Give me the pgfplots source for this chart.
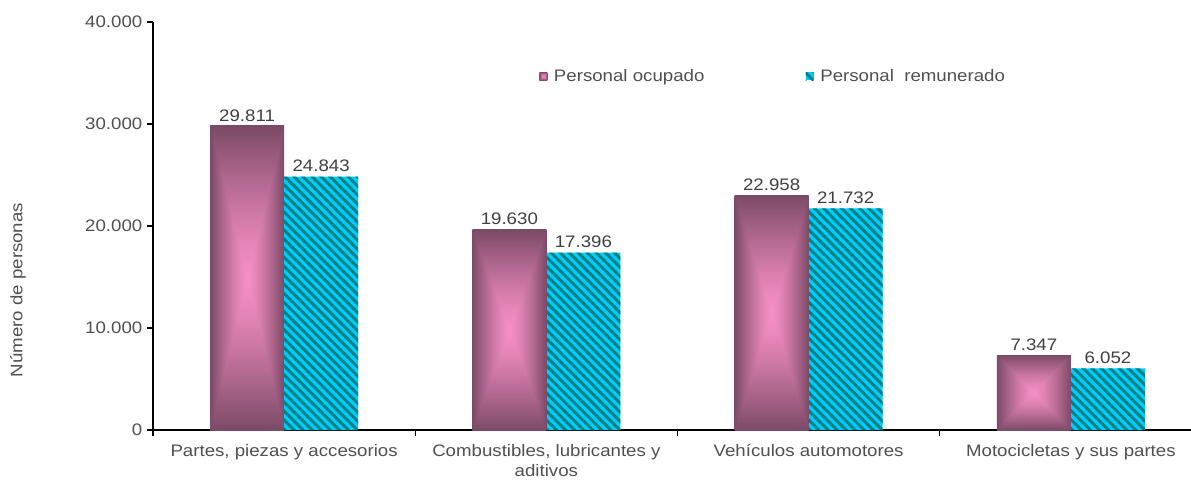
\documentclass[border=0pt]{standalone}
\usepackage{pgfplots}
\pgfplotsset{compat=1.18}
\usepackage{fontspec}
\setmainfont{Liberation Sans}[FakeStretch=1.12]
\usetikzlibrary{patterns.meta}
\newcommand\fs{\fontsize{12.5}{15}\selectfont}
\definecolor{cyanb}{RGB}{0,204,255}
\definecolor{tealb}{RGB}{0,128,128}
\definecolor{tickgray}{RGB}{80,80,80}
\definecolor{labgray}{RGB}{64,64,64}
\pgfdeclarefunctionalshading{boxgrad}{\pgfpoint{-50bp}{-50bp}}{\pgfpoint{50bp}{50bp}}{}{
abs exch abs 2 copy lt {exch} if pop 25 div dup 1 gt {pop 1} if 1.3 exp
dup -0.483 mul 0.965 add exch dup -0.271 mul 0.561 add exch -0.369 mul 0.769 add
}
\pgfplotsset{
  ocup/.style={ybar, bar shift=-0.1412, draw=none, shade, shading=boxgrad},
}
\begin{document}
\begin{tikzpicture}
\begin{axis}[
  at={(114.75pt,37.5pt)}, anchor=south west,
  scale only axis, width=786.75pt, height=306pt,
  xmin=-0.5, xmax=3.5, ymin=0, ymax=40000,
  axis x line*=bottom, axis y line*=left,
  axis line style={black, line width=0.8pt},
  ytick={0,10000,20000,30000,40000},
  xtick={-0.5,0.5,1.5,2.5,3.5}, xticklabels={},
  extra x ticks={0,1,2,3},
  extra x tick labels={{Partes, piezas y accesorios},{Combustibles, lubricantes y\\aditivos},{Vehículos automotores},{Motocicletas y sus partes}},
  extra x tick style={major tick length=0pt, xticklabel style={yshift=-7.5pt}},
  tick align=outside, major tick length=4.5pt,
  tick style={black, line width=0.8pt},
  scaled y ticks=false,
  /pgf/number format/1000 sep={.},
  /pgf/number format/assume math mode=true,
  tick label style={font=\fs, text=tickgray},
  xticklabel style={align=center},
  ylabel={Número de personas},
  ylabel style={font=\fs, text=tickgray, at={(axis description cs:-0.1287,0.343)}, anchor=center},
  ybar=0pt,
  bar width=0.2824,
  nodes near coords,
  nodes near coords style={font=\fs, text=labgray},
  legend style={draw=none, fill=none, font=\fs, text=tickgray,
    at={(axis description cs:0.3642,0.8676)}, anchor=west,
    legend columns=2,
    /tikz/every even column/.append style={column sep=0pt}},
  legend image code/.code={\path[#1] (0pt,-3pt) rectangle (6pt,3pt); \path (9pt,0pt);},
]
\addplot[ocup] coordinates {(0,29811)};
\addlegendentry{\makebox[186.75pt][l]{Personal ocupado}}
\addplot[ybar, bar shift=0.1412, draw=none, fill=cyanb,
  postaction={pattern={Lines[angle=-45,distance=4.8pt,line width=2.2pt]}, pattern color=tealb}]
  coordinates {(0,24843) (1,17396) (2,21732) (3,6052)};
\addlegendentry{Personal\ \ remunerado}
\addplot[ocup, forget plot] coordinates {(1,19630)};
\addplot[ocup, forget plot] coordinates {(2,22958)};
\addplot[ocup, forget plot] coordinates {(3,7347)};
\end{axis}
\pgfresetboundingbox
\useasboundingbox (0,0) rectangle (893.25pt,360pt);
\end{tikzpicture}
\end{document}
